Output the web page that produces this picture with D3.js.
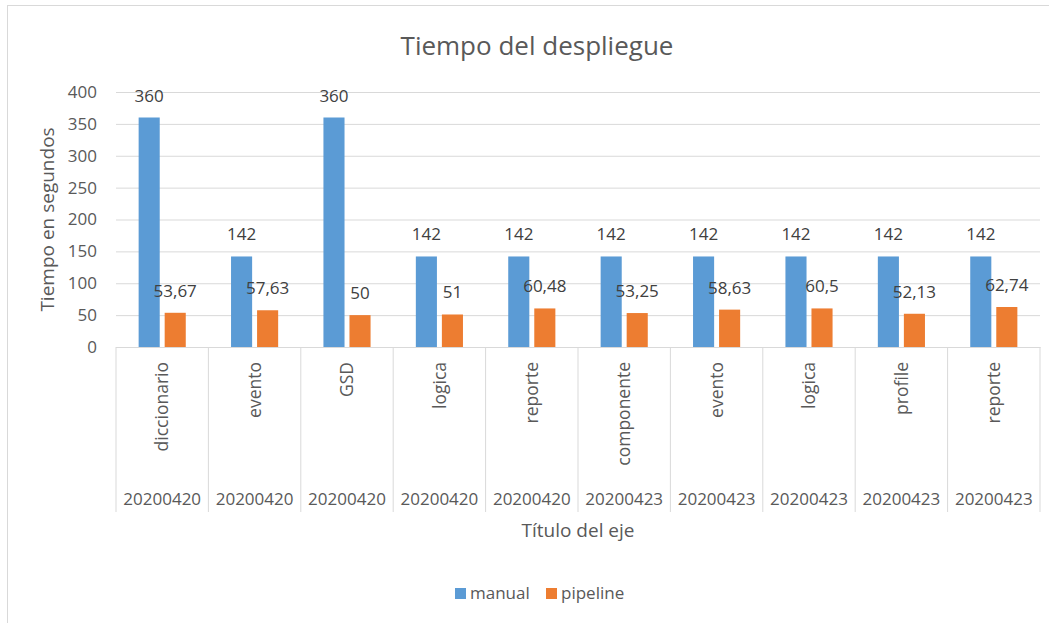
<!DOCTYPE html>
<html><head><meta charset="utf-8">
<script src="https://cdn.jsdelivr.net/npm/d3@7"></script>
<style>
body{margin:0;background:#fff;}
svg{display:block;font-family:"Open Sans",sans-serif;}
</style></head>
<body><svg id="c" width="1049" height="623"></svg>
<script>
const categories = ["diccionario","evento","GSD","logica","reporte","componente","evento","logica","profile","reporte"];
const dates = ["20200420","20200420","20200420","20200420","20200420","20200423","20200423","20200423","20200423","20200423"];
const seriesNames = ["manual","pipeline"];
const manual = [360,142,360,142,142,142,142,142,142,142];
const pipeline = [53.67,57.63,50,51,60.48,53.25,58.63,60.5,52.13,62.74];
const yTicks = [0,50,100,150,200,250,300,350,400];
const title = "Tiempo del despliegue";
const xTitle = "Título del eje";
const yTitle = "Tiempo en segundos";

const colors = {manual:"#5B9BD5", pipeline:"#ED7D31"};
const textCol = "#595959", gridCol = "#D9D9D9";
const svg = d3.select("#c");
const m = {l:116, r:1040, t:92, b:347};
const idx = categories.map((d,i)=>i);
const x0 = d3.scaleBand().domain(idx).range([m.l,m.r]).padding(0);
const bw = x0.bandwidth();
const x1 = d3.scaleBand().domain(seriesNames).range([bw*0.245,bw*0.755]).paddingInner(0.19);
const y = d3.scaleLinear().domain([0,400]).range([m.b,m.t]);
const loc = d3.formatLocale({decimal:",",thousands:".",grouping:[3],currency:["","€"]});
const fmt = loc.format("~f");

// chart border
svg.append("rect").attr("x",7.5).attr("y",5.5).attr("width",1100).attr("height",700)
  .attr("fill","none").attr("stroke","#D9D9D9");

// title
svg.append("text").attr("x",537).attr("y",55).attr("text-anchor","middle")
  .attr("font-size",26).attr("fill",textCol).text(title);

// y axis with gridlines
const ya = svg.append("g").attr("transform",`translate(${m.l},0)`)
  .call(d3.axisLeft(y).tickValues(yTicks).tickSize(-(m.r-m.l)).tickPadding(19).tickFormat(d3.format("d")));
ya.select(".domain").remove();
ya.selectAll(".tick line").attr("stroke",gridCol);
ya.selectAll(".tick text").attr("font-size",17).attr("fill",textCol).attr("font-family","Open Sans");

// x axis: category dividers
const bounds = idx.map(i=>x0(i)).concat([x0(idx[idx.length-1])+bw]);
svg.append("g").selectAll("line").data(bounds).join("line")
  .attr("x1",d=>d).attr("x2",d=>d).attr("y1",m.b).attr("y2",512)
  .attr("stroke",gridCol);

const xa = svg.append("g").attr("transform",`translate(0,${m.b})`)
  .call(d3.axisBottom(x0).tickSize(0).tickFormat(i=>categories[i]));
xa.select(".domain").attr("stroke",gridCol);
xa.selectAll(".tick text").attr("font-size",17.5).attr("fill",textCol).attr("font-family","Open Sans")
  .attr("transform","rotate(-90)").attr("text-anchor","end").attr("x",-15).attr("y",0).attr("dy","0.35em");

// date labels
svg.append("g").selectAll("text").data(idx).join("text")
  .attr("x",i=>x0(i)+bw/2).attr("y",505).attr("text-anchor","middle")
  .attr("font-size",17).attr("fill",textCol).text(i=>dates[i]);

// bars
const data = idx.map(i=>({i, vals:[{k:"manual",v:manual[i]},{k:"pipeline",v:pipeline[i]}]}));
const g = svg.append("g").selectAll("g").data(data).join("g")
  .attr("transform",d=>`translate(${x0(d.i)},0)`);
g.selectAll("rect").data(d=>d.vals).join("rect")
  .attr("x",d=>x1(d.k)).attr("width",x1.bandwidth())
  .attr("y",d=>y(d.v)).attr("height",d=>y(0)-y(d.v)).attr("fill",d=>colors[d.k]);
g.selectAll("text").data(d=>d.vals).join("text")
  .attr("x",d=>x1(d.k)+x1.bandwidth()/2).attr("y",d=>y(d.v)-16)
  .attr("text-anchor","middle").attr("font-size",17).attr("fill","#404040").text(d=>fmt(d.v));

// axis titles
svg.append("text").attr("x",(m.l+m.r)/2).attr("y",537).attr("text-anchor","middle")
  .attr("font-size",19).attr("fill",textCol).text(xTitle);
svg.append("text").attr("transform",`translate(54,${(m.t+m.b)/2}) rotate(-90)`).attr("text-anchor","middle")
  .attr("font-size",19).attr("fill",textCol).text(yTitle);

// legend
const lg = svg.append("g");
const lx = [455,546];
seriesNames.forEach((s,k)=>{
  lg.append("rect").attr("x",lx[k]).attr("y",588).attr("width",11).attr("height",11).attr("fill",colors[s]);
  lg.append("text").attr("x",lx[k]+15).attr("y",599).attr("font-size",17).attr("fill",textCol).text(s);
});
</script></body></html>
